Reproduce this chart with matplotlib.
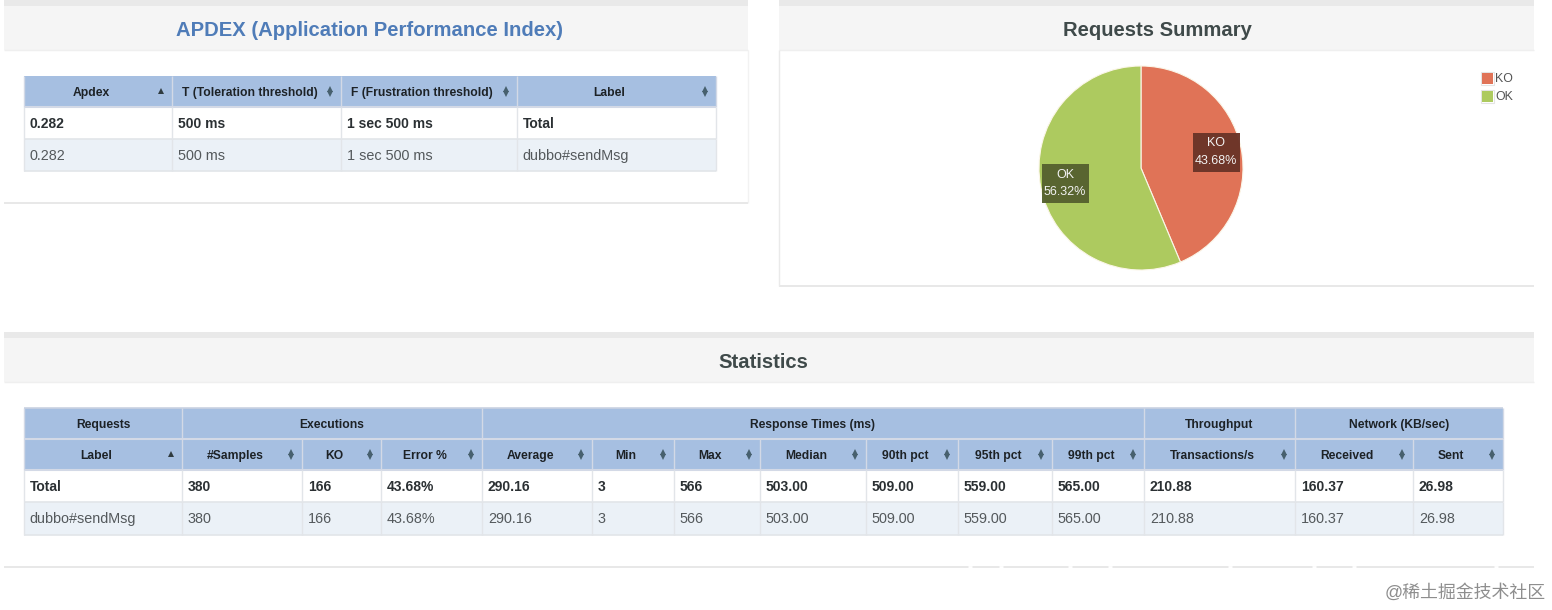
import matplotlib
matplotlib.use("Agg")
import matplotlib.pyplot as plt
from matplotlib.patches import Rectangle

plt.rcParams['font.family'] = ['Liberation Sans', 'Noto Sans CJK SC', 'DejaVu Sans']
plt.rcParams['lines.solid_capstyle'] = 'butt'

W, H = 1552, 610

# ---------- data ----------
pie_labels = ["KO", "OK"]
pie_values = [43.68, 56.32]
pie_colors = ["#E07357", "#ADCA5F"]
pie_box_colors = ["#6B3428", "#56622F"]

apdex_title = "APDEX (Application Performance Index)"
apdex_headers = ["Apdex", "T (Toleration threshold)", "F (Frustration threshold)", "Label"]
apdex_total = ["0.282", "500 ms", "1 sec 500 ms", "Total"]
apdex_row = ["0.282", "500 ms", "1 sec 500 ms", "dubbo#sendMsg"]

stats_groups = ["Requests", "Executions", "Response Times (ms)", "Throughput", "Network (KB/sec)"]
stats_group_spans = [1, 3, 7, 1, 2]
stats_headers = ["Label", "#Samples", "KO", "Error %", "Average", "Min", "Max", "Median",
                 "90th pct", "95th pct", "99th pct", "Transactions/s", "Received", "Sent"]
stats_total = ["Total", "380", "166", "43.68%", "290.16", "3", "566", "503.00",
               "509.00", "559.00", "565.00", "210.88", "160.37", "26.98"]
stats_row = ["dubbo#sendMsg", "380", "166", "43.68%", "290.16", "3", "566", "503.00",
             "509.00", "559.00", "565.00", "210.88", "160.37", "26.98"]

# ---------- layout (pixels) ----------
apdex_x = [24, 172, 341, 517, 716]
apdex_y = [76, 107, 139, 171]
stats_x = [24, 182, 302, 381, 482, 592, 674, 760, 866, 958, 1052, 1144, 1295, 1413, 1503]
stats_y = [408, 439, 470, 502, 535]

HDR = "#A6BFE1"
ALT = "#EBF1F7"
GRID = "#E2E5E9"
DARK = "#2B3033"
GREY = "#54595C"
ARROW = "#47606E"

fig = plt.figure(figsize=(W / 100, H / 100), dpi=100, facecolor="white")
ax = fig.add_axes([0, 0, 1, 1])
ax.set_xlim(0, W)
ax.set_ylim(H, 0)
ax.axis("off")


def rect(x0, y0, x1, y1, color, z=1):
    ax.add_patch(Rectangle((x0, y0), x1 - x0, y1 - y0, facecolor=color, edgecolor="none", zorder=z))


def panel(x0, x1, top, bottom, title, title_color, title_x):
    rect(x0, top, x1, top + 6, "#E9E9E9")
    rect(x0, top + 6, x1, top + 50, "#F5F5F5")
    ax.plot([x0, x1], [top + 50, top + 50], color="#EFEFEF", lw=1, zorder=2)
    ax.plot([x0, x1], [bottom, bottom], color="#E6E6E6", lw=1.3, zorder=2)
    ax.text(title_x, top + 30.5, title, color=title_color, fontsize=14.6, fontweight="bold",
            ha="center", va="center", zorder=5)


def sort_arrow(x, y, mode):
    if mode == "up":
        ax.plot([x], [y - 0.5], marker="^", ms=4.2, color="#2F3B40", mew=0, zorder=6)
    else:
        ax.plot([x], [y - 2.4], marker="^", ms=4.6, color=ARROW, mew=0, zorder=6)
        ax.plot([x], [y + 2.4], marker="v", ms=4.6, color=ARROW, mew=0, zorder=6)


def table_lines(xs, y0, y1):
    for x in xs:
        ax.plot([x, x], [y0, y1], color=GRID, lw=1, zorder=3)


def header_row(xs, y0, y1, labels, first_sort_up=True, center_offset=-7):
    rect(xs[0], y0, xs[-1], y1, HDR, 2)
    ax.plot([xs[0], xs[-1]], [y1, y1], color="#D3D9E6", lw=1.5, zorder=3)
    for i, lab in enumerate(labels):
        xa, xb = xs[i], xs[i + 1]
        ax.text((xa + xb) / 2 + center_offset, (y0 + y1) / 2 + 1.2, lab, color="#1D2226", fontsize=8.7,
                fontweight="bold", ha="center", va="center", zorder=5)
        sort_arrow(xb - 11, (y0 + y1) / 2, "up" if (i == 0 and first_sort_up) else "both")
        ax.plot([xa, xa], [y0, y1], color="#D3D9E6", lw=1, zorder=3)
    ax.plot([xs[-1], xs[-1]], [y0, y1], color="#D3D9E6", lw=1, zorder=3)


def body_row(xs, y0, y1, values, bold, bg):
    rect(xs[0], y0, xs[-1], y1, bg, 2)
    ax.plot([xs[0], xs[-1]], [y1, y1], color=GRID, lw=1.2, zorder=3)
    for i, v in enumerate(values):
        ax.text(xs[i] + 5.8, (y0 + y1) / 2 + 0.8, v, color=DARK if bold else GREY,
                fontsize=10.0 if bold else 10.4,
                fontweight="bold" if bold else "normal", ha="left", va="center", zorder=5)
    table_lines(xs, y0, y1)


# ---------- panels ----------
panel(4, 748, 0, 203, apdex_title, "#4F7CB8", 370)
panel(779, 1534, 0, 286, "Requests Summary", "#3F4A4A", 1157)
ax.plot([779, 779], [50, 286], color="#EAEAEA", lw=1, zorder=2)
ax.plot([748, 748], [50, 203], color="#F2F2F2", lw=1, zorder=2)
panel(4, 1534, 332, 567, "Statistics", "#3F4A4A", 763)
# white gaps on the bottom rule
for a, b in [(968, 972), (999, 1003), (1068, 1072), (1108, 1112), (1228, 1232), (1312, 1316), (1352, 1356), (1494, 1498)]:
    ax.plot([a, b], [567, 567], color="white", lw=2, zorder=3)

# ---------- APDEX table ----------
header_row(apdex_x, apdex_y[0], apdex_y[1], apdex_headers, center_offset=-7)
body_row(apdex_x, apdex_y[1], apdex_y[2], apdex_total, True, "white")
body_row(apdex_x, apdex_y[2], apdex_y[3], apdex_row, False, ALT)

# ---------- statistics table ----------
rect(stats_x[0], stats_y[0], stats_x[-1], stats_y[1], HDR, 2)
ax.plot([stats_x[0], stats_x[-1]], [stats_y[0], stats_y[0]], color="#C9D2E2", lw=1.2, zorder=3)
ax.plot([stats_x[0], stats_x[-1]], [stats_y[1], stats_y[1]], color="#D3D9E6", lw=1.5, zorder=3)
k = 0
for g, span in zip(stats_groups, stats_group_spans):
    xa, xb = stats_x[k], stats_x[k + span]
    ax.text((xa + xb) / 2, (stats_y[0] + stats_y[1]) / 2 + 1.2, g, color="#1D2226", fontsize=8.7,
            fontweight="bold", ha="center", va="center", zorder=5)
    ax.plot([xa, xa], [stats_y[0], stats_y[1]], color="#D3D9E6", lw=1, zorder=3)
    k += span
ax.plot([stats_x[-1]] * 2, [stats_y[0], stats_y[1]], color="#D3D9E6", lw=1, zorder=3)
header_row(stats_x, stats_y[1], stats_y[2], stats_headers)
body_row(stats_x, stats_y[2], stats_y[3], stats_total, True, "white")
body_row(stats_x, stats_y[3], stats_y[4], stats_row, False, ALT)

# ---------- pie ----------
cx, cy, r = 1141, 168, 102
pax = fig.add_axes([(cx - r) / W, 1 - (cy + r) / H, 2 * r / W, 2 * r / H])
pax.pie(pie_values, colors=pie_colors, startangle=90, counterclock=False, radius=1,
        wedgeprops=dict(edgecolor="#FBF6E8", linewidth=0.8))
pax.set_xlim(-1, 1)
pax.set_ylim(-1, 1)
pax.set_aspect("auto")
pax.axis("off")

ax2 = fig.add_axes([0, 0, 1, 1], facecolor="none")
ax2.set_xlim(0, W)
ax2.set_ylim(H, 0)
ax2.axis("off")
box_centers = [(1216, 152.5), (1065, 183.5)]
for lab, val, bc, (bx, by) in zip(pie_labels, pie_values, pie_box_colors, box_centers):
    ax2.add_patch(Rectangle((bx - 23.5, by - 19.5), 47, 39, facecolor=bc, edgecolor="none", alpha=0.97))
    ax2.text(bx, by - 9, lab, color="#F2F2F2", fontsize=9, ha="center", va="center")
    ax2.text(bx, by + 8.5, f"{val:.2f}%", color="#F2F2F2", fontsize=9, ha="center", va="center")

# legend
for lab, col, ly in zip(pie_labels, pie_colors, [78.5, 96]):
    ax2.add_patch(Rectangle((1481, ly - 6.5), 13, 13, facecolor="white", edgecolor="#E4E4E4", lw=0.8))
    ax2.add_patch(Rectangle((1482, ly - 5.5), 11, 11, facecolor=col, edgecolor="none"))
    ax2.text(1495.5, ly + 0.5, lab, color="#545454", fontsize=8.9, ha="left", va="center")

# watermark
ax2.text(1546, 593, "@稀土掘金技术社区", color="#8E8E8E", fontsize=12.9, ha="right", va="center")

fig.savefig("out.png", dpi=100)
